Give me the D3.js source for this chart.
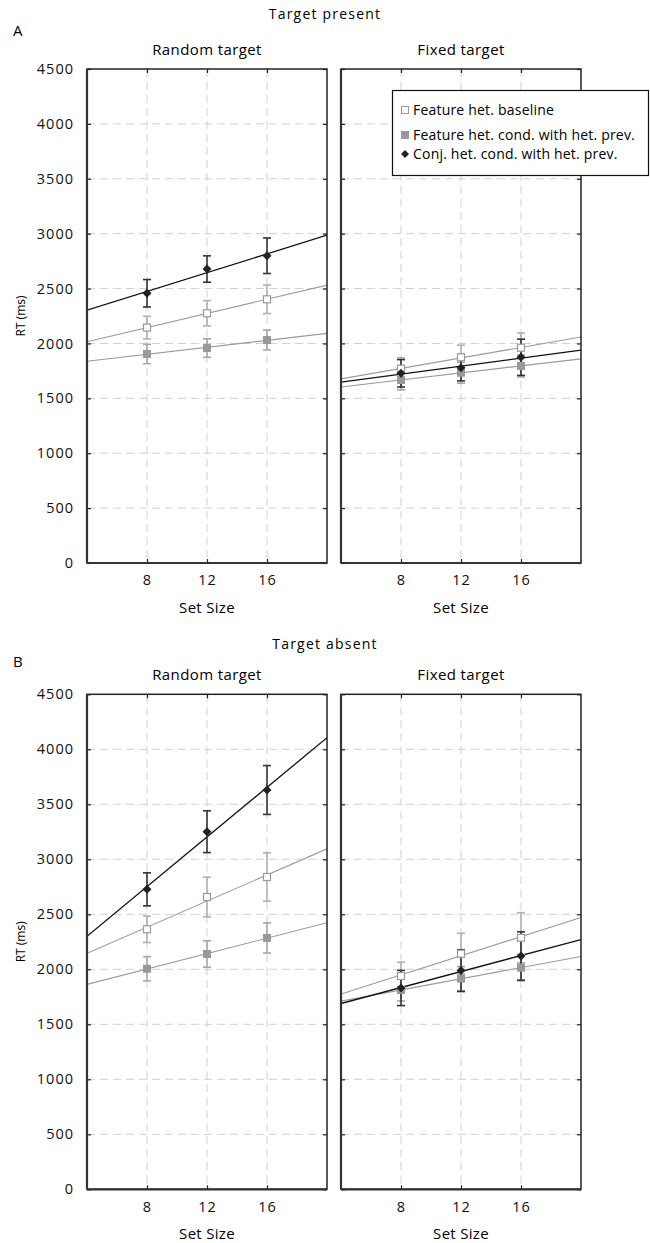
<!DOCTYPE html>
<html>
<head>
<meta charset="utf-8">
<script src="https://cdn.jsdelivr.net/npm/d3@7"></script>
<style>
  html, body { margin: 0; padding: 0; background: #fff; }
  svg { display: block; font-family: "Open Sans", "Noto Sans", sans-serif; }
</style>
</head>
<body>
<div id="chart"></div>
<script>
// Set sizes on the x axis and RT ticks on the y axis
const setSizes = [8, 12, 16];
const xDomain = [4, 20];
const yTicks = [0, 500, 1000, 1500, 2000, 2500, 3000, 3500, 4000, 4500];

const seriesNames = [
  "Feature het. baseline",
  "Feature het. cond. with het. prev.",
  "Conj. het. cond. with het. prev."
];

// Mean RTs (ms) per set size, and error bar half-widths
const presentRandomBaseline = [2144, 2275, 2402];
const presentRandomFeature  = [1904, 1958, 2031];
const presentRandomConj     = [2457, 2678, 2799];
const presentRandomBaselineErr = [103, 115, 130];
const presentRandomFeatureErr  = [88, 84, 91];
const presentRandomConjErr     = [125, 120, 162];

const presentFixedBaseline = [1770, 1874, 1961];
const presentFixedFeature  = [1667, 1733, 1795];
const presentFixedConj     = [1728, 1779, 1874];
const presentFixedBaselineErr = [100, 110, 135];
const presentFixedFeatureErr  = [90, 95, 100];
const presentFixedConjErr     = [125, 120, 165];

const absentRandomBaseline = [2364, 2657, 2839];
const absentRandomFeature  = [2005, 2139, 2285];
const absentRandomConj     = [2727, 3251, 3630];
const absentRandomBaselineErr = [120, 180, 220];
const absentRandomFeatureErr  = [110, 120, 137];
const absentRandomConjErr     = [150, 190, 222];

const absentFixedBaseline = [1939, 2142, 2287];
const absentFixedFeature  = [1812, 1915, 2015];
const absentFixedConj     = [1830, 1988, 2121];
const absentFixedBaselineErr = [125, 185, 228];
const absentFixedFeatureErr  = [100, 110, 120];
const absentFixedConjErr     = [160, 190, 220];

const W = 650, H = 1243;
const svg = d3.select("#chart").append("svg").attr("width", W).attr("height", H);

// series styling: baseline (open square), feature (grey square), conjunction (black diamond)
const styles = [
  { key: "baseline", line: "#9a9a9a", lineW: 1.1, err: "#b0b0b0", shape: "square", fill: "#fff", stroke: "#9a9a9a", size: 7 },
  { key: "feature",  line: "#9a9a9a", lineW: 1.1, err: "#a6a6a6", shape: "square", fill: "#999", stroke: "none", size: 8 },
  { key: "conj",     line: "#111",    lineW: 1.3, err: "#333",    shape: "diamond", fill: "#222", stroke: "none", size: 9 }
];

const rows = [
  { label: "Target present", letter: "A", top: 69, bottom: 563, titleY: 19, letterY: 36,
    panels: [
      { title: "Random target", left: 87, right: 327, yLabels: true,
        means: [presentRandomBaseline, presentRandomFeature, presentRandomConj],
        errs: [presentRandomBaselineErr, presentRandomFeatureErr, presentRandomConjErr] },
      { title: "Fixed target", left: 341, right: 581, yLabels: false,
        means: [presentFixedBaseline, presentFixedFeature, presentFixedConj],
        errs: [presentFixedBaselineErr, presentFixedFeatureErr, presentFixedConjErr] }
    ] },
  { label: "Target absent", letter: "B", top: 694.3, bottom: 1189.3, titleY: 649, letterY: 667,
    panels: [
      { title: "Random target", left: 87, right: 327, yLabels: true,
        means: [absentRandomBaseline, absentRandomFeature, absentRandomConj],
        errs: [absentRandomBaselineErr, absentRandomFeatureErr, absentRandomConjErr] },
      { title: "Fixed target", left: 341, right: 581, yLabels: false,
        means: [absentFixedBaseline, absentFixedFeature, absentFixedConj],
        errs: [absentFixedBaselineErr, absentFixedFeatureErr, absentFixedConjErr] }
    ] }
];

// least-squares line through the three means
function fit(xs, ys) {
  const mx = d3.mean(xs), my = d3.mean(ys);
  const slope = d3.sum(xs, (x, i) => (x - mx) * (ys[i] - my)) / d3.sum(xs, x => (x - mx) ** 2);
  return x => my + slope * (x - mx);
}

rows.forEach(row => {
  svg.append("text").attr("x", 325).attr("y", row.titleY)
    .attr("text-anchor", "middle").attr("font-size", 14).attr("letter-spacing", 1.2)
    .text(row.label);
  svg.append("text").attr("x", 13).attr("y", row.letterY)
    .attr("font-size", 15).text(row.letter);

  row.panels.forEach(p => {
    const x = d3.scaleLinear().domain(xDomain).range([p.left, p.right]);
    const y = d3.scaleLinear().domain([0, 4500]).range([row.bottom, row.top]);
    const g = svg.append("g");
    const clipId = "clip" + Math.round(p.left) + "_" + Math.round(row.top);
    svg.append("clipPath").attr("id", clipId).append("rect")
      .attr("x", p.left).attr("y", row.top).attr("width", p.right - p.left).attr("height", row.bottom - row.top);

    // panel title
    svg.append("text").attr("x", (p.left + p.right) / 2).attr("y", row.top - 14)
      .attr("text-anchor", "middle").attr("font-size", 15).attr("letter-spacing", 0.4)
      .text(p.title);

    // dashed grid
    g.selectAll(".hg").data(yTicks.slice(1, -1)).join("line")
      .attr("x1", p.left).attr("x2", p.right)
      .attr("y1", d => y(d)).attr("y2", d => y(d))
      .attr("stroke", "#d0d0d0").attr("stroke-width", 1).attr("stroke-dasharray", "8,5");
    g.selectAll(".vg").data(setSizes).join("line")
      .attr("x1", d => x(d)).attr("x2", d => x(d))
      .attr("y1", row.top).attr("y2", row.bottom)
      .attr("stroke", "#d0d0d0").attr("stroke-width", 1).attr("stroke-dasharray", "8,5");

    // axes with inward ticks on all four sides
    const axL = svg.append("g").attr("transform", `translate(${p.left},0)`)
      .call(d3.axisLeft(y).tickValues(yTicks).tickFormat(d3.format("d"))
        .tickSizeInner(-4).tickSizeOuter(0).tickPadding(13));
    const axR = svg.append("g").attr("transform", `translate(${p.right},0)`)
      .call(d3.axisRight(y).tickValues(yTicks).tickSizeInner(-4).tickSizeOuter(0).tickFormat(""));
    const axT = svg.append("g").attr("transform", `translate(0,${row.top})`)
      .call(d3.axisTop(x).tickValues(setSizes).tickSizeInner(-4).tickSizeOuter(0).tickFormat(""));
    const axB = svg.append("g").attr("transform", `translate(0,${row.bottom})`)
      .call(d3.axisBottom(x).tickValues(setSizes).tickFormat(d3.format("d"))
        .tickSizeInner(-4).tickSizeOuter(0).tickPadding(12));
    [axL, axR, axT, axB].forEach(a => {
      a.select(".domain").remove();
      a.selectAll(".tick line").attr("stroke", "#222").attr("stroke-width", 1.2);
      a.selectAll("text").attr("font-family", "'Open Sans', sans-serif")
        .attr("font-size", 14.5).attr("fill", "#111").attr("letter-spacing", 1);
    });
    if (!p.yLabels) axL.selectAll("text").remove();

    // panel frame
    svg.append("rect").attr("x", p.left).attr("y", row.top)
      .attr("width", p.right - p.left).attr("height", row.bottom - row.top)
      .attr("fill", "none").attr("stroke", "#222").attr("stroke-width", 1.5);
    svg.append("line").attr("x1", p.left).attr("x2", p.left).attr("y1", row.top).attr("y2", row.bottom)
      .attr("stroke", "#333").attr("stroke-width", 2.2);
    svg.append("line").attr("x1", p.left).attr("x2", p.right).attr("y1", row.bottom).attr("y2", row.bottom)
      .attr("stroke", "#333").attr("stroke-width", 2.2);

    // axis labels
    svg.append("text").attr("x", (p.left + p.right) / 2).attr("y", row.bottom + 50)
      .attr("text-anchor", "middle").attr("font-size", 15).attr("letter-spacing", 0.3)
      .text("Set Size");
    if (p.yLabels) {
      svg.append("text")
        .attr("transform", `translate(25,${(row.top + row.bottom) / 2}) rotate(-90)`)
        .attr("text-anchor", "middle").attr("font-size", 12).text("RT (ms)");
    }

    const data = g.append("g").attr("clip-path", `url(#${clipId})`);

    // regression lines across the full x range
    p.means.forEach((m, si) => {
      const f = fit(setSizes, m);
      const st = styles[si];
      data.append("line")
        .attr("x1", x(xDomain[0])).attr("y1", y(f(xDomain[0])))
        .attr("x2", x(xDomain[1])).attr("y2", y(f(xDomain[1])))
        .attr("stroke", st.line).attr("stroke-width", st.lineW);
    });

    // error bars
    p.means.forEach((m, si) => {
      const st = styles[si];
      const pts = setSizes.map((s, i) => ({ s, v: m[i], e: p.errs[si][i] }));
      const eb = data.append("g").attr("stroke", st.err).attr("stroke-width", 1.6);
      eb.selectAll(".v").data(pts).join("line")
        .attr("x1", d => x(d.s)).attr("x2", d => x(d.s))
        .attr("y1", d => y(d.v - d.e)).attr("y2", d => y(d.v + d.e));
      [-1, 1].forEach(sign => {
        eb.selectAll(".c" + sign).data(pts).join("line")
          .attr("x1", d => x(d.s) - 4).attr("x2", d => x(d.s) + 4)
          .attr("y1", d => y(d.v + sign * d.e)).attr("y2", d => y(d.v + sign * d.e));
      });
    });

    // markers
    p.means.forEach((m, si) => {
      const st = styles[si];
      const pts = setSizes.map((s, i) => ({ s, v: m[i] }));
      if (st.shape === "square") {
        data.selectAll(".m" + si).data(pts).join("rect")
          .attr("x", d => x(d.s) - st.size / 2).attr("y", d => y(d.v) - st.size / 2)
          .attr("width", st.size).attr("height", st.size)
          .attr("fill", st.fill).attr("stroke", st.stroke).attr("stroke-width", 1.2);
      } else {
        const r = st.size / 2;
        data.selectAll(".m" + si).data(pts).join("path")
          .attr("d", d => `M${x(d.s)},${y(d.v) - r}L${x(d.s) + r},${y(d.v)}L${x(d.s)},${y(d.v) + r}L${x(d.s) - r},${y(d.v)}Z`)
          .attr("fill", st.fill);
      }
    });
  });
});

// legend in the upper right panel
const legend = svg.append("g");
legend.append("rect").attr("x", 392.5).attr("y", 90.5).attr("width", 256).attr("height", 85)
  .attr("fill", "#fff").attr("stroke", "#111").attr("stroke-width", 1.2);
const legendRowsY = [110, 135, 154];
seriesNames.forEach((name, i) => {
  const st = styles[i];
  const cy = legendRowsY[i], cx = 405;
  if (st.shape === "square") {
    const s = i === 0 ? 7 : 8;
    legend.append("rect").attr("x", cx - s / 2).attr("y", cy - s / 2).attr("width", s).attr("height", s)
      .attr("fill", st.fill).attr("stroke", st.stroke).attr("stroke-width", 1);
  } else {
    const r = 4;
    legend.append("path").attr("d", `M${cx},${cy - r}L${cx + r},${cy}L${cx},${cy + r}L${cx - r},${cy}Z`)
      .attr("fill", st.fill);
  }
  legend.append("text").attr("x", 413).attr("y", cy + 5).attr("font-size", 14).attr("letter-spacing", 0.2)
    .text(name);
});
</script>
</body>
</html>
